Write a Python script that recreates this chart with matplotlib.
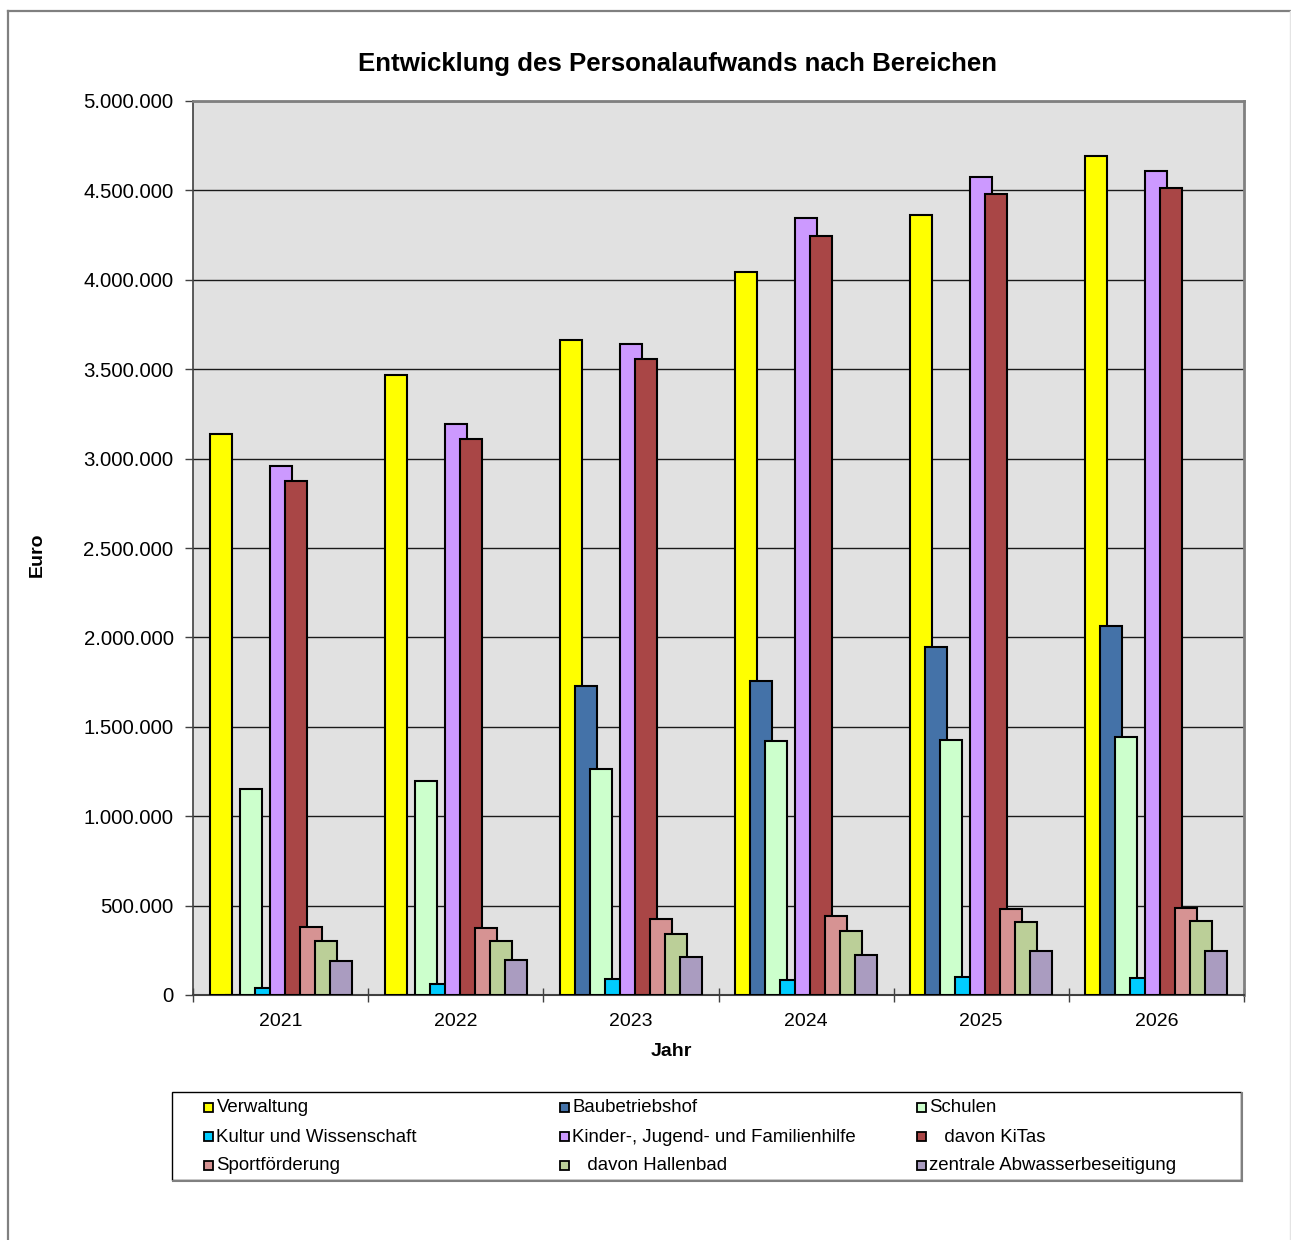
import matplotlib
matplotlib.use("Agg")
import matplotlib.pyplot as plt
from matplotlib.patches import Rectangle
from matplotlib.lines import Line2D
from matplotlib.ticker import FuncFormatter, MultipleLocator
import numpy as np

plt.rcParams["font.family"] = ["Liberation Sans", "DejaVu Sans"]

years = ["2021", "2022", "2023", "2024", "2025", "2026"]

series_names = [
    "Verwaltung",
    "Baubetriebshof",
    "Schulen",
    "Kultur und Wissenschaft",
    "Kinder-, Jugend- und Familienhilfe",
    "   davon KiTas",
    "Sportförderung",
    "   davon Hallenbad",
    "zentrale Abwasserbeseitigung",
]

verwaltung = [3140000, 3468000, 3663000, 4044000, 4362000, 4692000]
baubetriebshof = [0, 0, 1728000, 1756000, 1946000, 2064000]
schulen = [1152000, 1197000, 1264000, 1421000, 1426000, 1443000]
kultur = [39000, 62000, 89000, 84000, 101000, 95000]
kinder_jugend = [2959000, 3194000, 3641000, 4346000, 4575000, 4609000]
kitas = [2875000, 3110000, 3557000, 4245000, 4480000, 4513000]
sport = [378000, 375000, 425000, 442000, 481000, 487000]
hallenbad = [302000, 302000, 341000, 358000, 408000, 414000]
abwasser = [190000, 196000, 212000, 224000, 246000, 246000]

colors = ["#FFFF00", "#4472A8", "#CCFFCC", "#00CCFF", "#CC99FF",
          "#A94646", "#D69393", "#BBCF98", "#AA9CC0"]

all_series = [verwaltung, baubetriebshof, schulen, kultur, kinder_jugend,
              kitas, sport, hallenbad, abwasser]

W, H = 1291, 1240
fig = plt.figure(figsize=(W / 100, H / 100), dpi=100)

# outer frame of the chart
fig.add_artist(Line2D([8 / W, 8 / W], [0, 1 - 11 / H], transform=fig.transFigure,
                      color="#808080", lw=1.6))
fig.add_artist(Line2D([8 / W, 1290 / W], [1 - 11 / H, 1 - 11 / H], transform=fig.transFigure,
                      color="#808080", lw=1.6))
fig.add_artist(Line2D([1290 / W, 1290 / W], [0, 1 - 11 / H], transform=fig.transFigure,
                      color="#E4E4E4", lw=1.0))

ax = fig.add_axes([193 / W, 1 - 995 / H, (1244 - 193) / W, (995 - 101) / H])
ax.set_facecolor("#E1E1E1")

x = np.arange(len(years))
step = 15 / 175
width = 22 / 175
n = len(all_series)
for k, (vals, col) in enumerate(zip(all_series, colors)):
    offs = (k - (n - 1) / 2) * step
    ax.bar(x + offs, vals, width=width, color=col, edgecolor="black",
           linewidth=1.5, zorder=3 + k * 0.01)

ax.set_xlim(-0.5, len(years) - 0.5)
ax.set_ylim(0, 5000000)
ax.yaxis.set_major_locator(MultipleLocator(500000))
ax.yaxis.set_major_formatter(FuncFormatter(lambda v, p: f"{int(v):,}".replace(",", ".")))
ax.grid(axis="y", color="#1a1a1a", lw=1.0, zorder=1)
ax.set_axisbelow(True)

ax.set_xticks(x)
ax.set_xticklabels(years)
ax.set_xticks(np.arange(-0.5, len(years), 1.0), minor=True)
ax.tick_params(axis="x", which="major", length=0, labelsize=14, pad=13)
ax.tick_params(axis="x", which="minor", direction="inout", length=10, width=1.0, color="#404040")
ax.tick_params(axis="y", direction="out", length=6, width=1.0, labelsize=14.7, pad=8, color="#404040")

for side in ["top", "right"]:
    ax.spines[side].set_color("#808080")
    ax.spines[side].set_linewidth(2.0)
ax.spines["left"].set_color("#404040")
ax.spines["left"].set_linewidth(1.2)
ax.spines["bottom"].set_color("#404040")
ax.spines["bottom"].set_linewidth(1.5)

fig.text(678 / W, 1 - 64 / H, "Entwicklung des Personalaufwands nach Bereichen",
         ha="center", va="center", fontsize=18.6, fontweight="bold")
fig.text(37 / W, 1 - 555 / H, "Euro", ha="center", va="center", rotation=90,
         fontsize=14, fontweight="bold")
fig.text(671 / W, 1 - 1051 / H, "Jahr", ha="center", va="center",
         fontsize=14, fontweight="bold")

# legend box
lx0, lx1, ly0, ly1 = 172, 1241, 1092, 1180
fig.add_artist(Rectangle((lx0 / W, 1 - ly1 / H), (lx1 - lx0) / W, (ly1 - ly0) / H,
                         transform=fig.transFigure, facecolor="white",
                         edgecolor="black", lw=1.0, zorder=1))
fig.add_artist(Line2D([(lx0 + 1) / W, (lx1 + 1) / W], [1 - (ly1 + 1) / H] * 2,
                      transform=fig.transFigure, color="#808080", lw=1.5))
fig.add_artist(Line2D([(lx1 + 1) / W] * 2, [1 - (ly0 + 1) / H, 1 - (ly1 + 1) / H],
                      transform=fig.transFigure, color="#808080", lw=1.5))

col_x = [208, 564, 921]
row_y = [1107, 1136, 1165]
sq = 9
for i, (name, col) in enumerate(zip(series_names, colors)):
    r, c = divmod(i, 3)
    mx, my = col_x[c], row_y[r]
    fig.add_artist(Rectangle(((mx - sq / 2) / W, 1 - (my + sq / 2) / H), sq / W, sq / H,
                             transform=fig.transFigure, facecolor=col,
                             edgecolor="black", lw=1.3, zorder=3))
    fig.text((mx + 8.5) / W, 1 - (my + 1) / H, name, ha="left", va="center", fontsize=13.4)

fig.savefig("out.png", dpi=100, facecolor="white")
